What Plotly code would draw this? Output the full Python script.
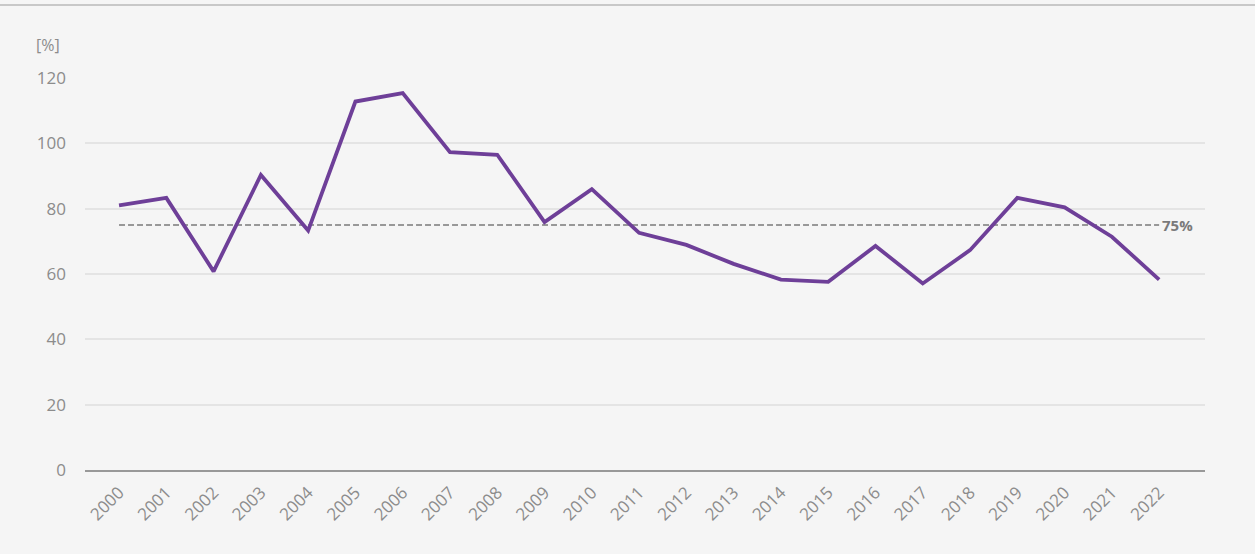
import plotly.graph_objects as go

years = [str(y) for y in range(2000, 2023)]
values = [81, 83.3, 60.8, 90.3, 73.3, 112.8, 115.4, 97.3, 96.5, 75.9, 86, 72.6,
          68.9, 63.1, 58.3, 57.6, 68.6, 57.1, 67.3, 83.3, 80.4, 71.4, 58.3]
target = 75
y_ticks = [0, 20, 40, 60, 80, 100, 120]

font_family = "Open Sans, Lato, sans-serif"
grey = "#8c8c8c"

fig = go.Figure()
fig.add_trace(go.Scatter(
    x=[0, len(years) - 1], y=[target, target], mode="lines",
    line=dict(color="#7a7a7a", width=1.7, dash="6px,3px"),
    hoverinfo="skip", showlegend=False,
))
fig.add_trace(go.Scatter(
    x=list(range(len(years))), y=values, mode="lines",
    line=dict(color="#6e3f98", width=3.8),
    hoverinfo="y", showlegend=False,
))
fig.add_annotation(x=len(years) - 1, y=target, xref="x", yref="y", text="<b>75%</b>",
                   showarrow=False, xanchor="left", xshift=1,
                   font=dict(family=font_family, size=15, color="#7a7a7a"))

fig.update_layout(
    width=1255, height=554,
    paper_bgcolor="#f5f5f5", plot_bgcolor="#f5f5f5",
    margin=dict(l=85, r=50, t=78, b=84, autoexpand=False),
    font=dict(family=font_family, size=17, color=grey),
    xaxis=dict(
        range=[-0.72, 22.97], tickmode="array",
        tickvals=list(range(len(years))), ticktext=years,
        tickangle=-45, showgrid=False, zeroline=False, automargin=False,
        showline=True, linecolor="#999999", linewidth=2,
        ticks="", ticklabelstandoff=4, tickfont=dict(size=17, color=grey),
    ),
    yaxis=dict(
        range=[0, 120], tickvals=y_ticks, showgrid=True, gridcolor="#e4e4e4",
        gridwidth=1.5, zeroline=False, showline=False, ticks="", automargin=False,
        ticklabelstandoff=18, tickfont=dict(size=17, color=grey),
    ),
)
fig.add_annotation(x=-0.033, y=1.084, xref="paper", yref="paper", text="[%]",
                   showarrow=False, xanchor="center", yanchor="middle",
                   font=dict(family=font_family, size=16, color=grey))
# top border
fig.add_shape(type="line", xref="paper", yref="paper", x0=-0.08, x1=1.05, y0=1.186, y1=1.186,
              line=dict(color="#c8c8c8", width=2))

fig.write_html("out.html", config={"displayModeBar": False},
               post_script="document.body.style.margin='0';")
